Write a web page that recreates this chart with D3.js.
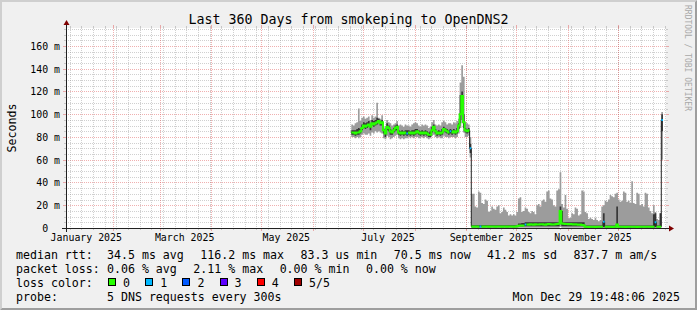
<!DOCTYPE html>
<html>
<head>
<meta charset="utf-8">
<script src="https://cdn.jsdelivr.net/npm/d3@7/dist/d3.min.js"></script>
<style>
  html, body { margin: 0; padding: 0; background: #f0f0f0; }
  svg { display: block; font-family: "DejaVu Sans Mono", monospace; }
</style>
</head>
<body>
<svg id="chart" width="697" height="310"></svg>
<script>
// ---- data (one value per day, ms) ----
const firstDay = "2025-06-24";
const endTime = new Date("2025-12-29T19:48:06Z");

const median = [
  84,84,83,84,84,85,88,90,89,90, 91,89,92,91,92,93,94,92,93,86,
  83,89,88,85,84,86,88,89,84,83, 84,83,84,83,84,83,84,83,84,85,
  84,83,84,83,84,83,82,82,86,89, 85,83,84,83,84,87,86,85,84,85,
  84,85,84,85,90,100,116,93,86,85, 86,70,
  1.3,1.2,1.3,1.4,1.2,1.3,1.3,1.2,1.4,1.3, 1.2,1.3,1.4,1.3,1.2,1.3,1.3,1.4,1.2,1.3,
  1.3,1.2,1.4,1.3,1.3,1.2,1.4,1.5,2.0,2.1, 2.0,2.2,3.0,3.1,2.9,3.2,3.0,2.8,3.3,3.1,
  3.0,3.4,3.2,3.0,2.9,3.3,3.5,3.2,3.0,3.1, 3.4,3.6,3.8,15,4.0,3.8,3.6,3.5,3.4,3.6,
  3.2,3.0,3.3,3.1,2.8,3.0,2.7,2.5,1.1,1.0, 0.9,1.0,1.1,1.0,0.9,1.0,1.1,1.0,1.2,5.5,
  1.2,1.0,1.1,1.0,0.9,1.0,1.1,3.0,1.2,1.0, 1.1,1.0,0.9,1.0,1.1,1.0,1.2,1.1,1.0,0.9,
  1.0,1.1,1.0,1.2,1.1,1.0,1.1,1.0,1.1,1.0, 5.0,1.2,1.1,1.2,95
];
const pingMin = [
  80,80,79,80,79,80,82,83,82,82, 83,81,84,83,85,84,85,84,83,79,
  78,81,80,78,79,80,81,82,79,78, 79,78,79,79,80,79,80,79,80,80,
  79,79,80,79,80,79,78,79,81,82, 80,79,80,79,79,81,80,80,79,80,
  80,80,79,80,83,88,95,84,80,80, 81,62,
  0.3,0.3,0.3,0.3,0.3,0.3,0.3,0.3,0.3,0.3, 0.3,0.3,0.3,0.3,0.3,0.3,0.3,0.3,0.3,0.3,
  0.3,0.3,0.3,0.3,0.3,0.3,0.3,0.3,0.3,0.3, 0.3,0.3,0.3,0.3,0.3,0.3,0.3,0.3,0.3,0.3,
  0.3,0.3,0.3,0.3,0.3,0.3,0.3,0.3,0.3,0.3, 0.3,0.3,0.3,1.0,0.3,0.3,0.3,0.3,0.3,0.3,
  0.3,0.3,0.3,0.3,0.3,0.3,0.3,0.3,0.3,0.3, 0.3,0.3,0.3,0.3,0.3,0.3,0.3,0.3,0.3,0.3,
  0.3,0.3,0.3,0.3,0.3,0.3,0.3,0.3,0.3,0.3, 0.3,0.3,0.3,0.3,0.3,0.3,0.3,0.3,0.3,0.3,
  0.3,0.3,0.3,0.3,0.3,0.3,0.3,0.3,0.3,0.3, 0.3,0.3,0.3,0.3,60
];
const pingMax = [
  91,90,92,93,105,94,97,98,96,97, 98,95,99,97,98,110,97,96,99,89,
  88,95,93,92,90,91,92,94,90,91, 90,89,91,90,90,89,91,92,93,92,
  90,89,91,90,91,90,88,89,93,95, 91,90,91,90,93,94,93,91,92,92,
  91,93,92,94,96,128,143,133,93,92, 91,80,
  30,30,19,18,32,31,22,21,25,24, 14,15,19,17,16,19,20,13,14,18,
  16,14,11,12,11,12,11,14,26,27, 14,15,18,17,14,13,15,14,12,20,
  21,19,24,25,23,32,33,26,25,20, 19,33,34,49,21,18,29,17,8.5,9,
  13,12,18,17,11,12,33,32,14,13, 8,9,8,7,9,7,6,7,19,20,
  24,23,25,29,28,27,30,31,25,23, 24,32,31,23,24,22,41,22,21,31,
  30,20,21,19,31,30,18,15,13,20, 14,8,7,13,102
];
// 2nd and 4th of the five sorted pings (dark inner smoke)
const pingLow = [
  82,82,81,82,82,83,86,88,87,88, 89,86,90,89,90,91,92,90,90,83,
  80,86,85,82,82,84,85,86,82,81, 82,81,82,81,82,81,82,81,82,83,
  82,81,82,81,82,81,80,80,84,86, 83,81,82,81,82,85,84,83,82,83,
  82,83,82,83,87,92,100,88,84,83, 84,66,
  0.7,0.7,0.7,0.7,0.7,0.7,0.7,0.7,0.7,0.7, 0.7,0.7,0.7,0.7,0.7,0.7,0.7,0.7,0.7,0.7,
  0.7,0.7,0.7,0.7,0.7,0.7,0.7,0.7,1.5,1.5, 1.5,1.5,1.5,1.5,1.5,1.5,1.5,1.5,1.5,1.5,
  1.5,1.5,1.5,1.5,1.5,1.5,1.5,1.5,1.5,1.5, 1.5,1.5,1.5,7,1.5,1.5,1.5,1.5,1.5,1.5,
  1.5,1.5,1.5,1.5,1.5,1.5,1.5,1.5,0.6,0.6, 0.6,0.6,0.6,0.6,0.6,0.6,0.6,0.6,0.6,0.6,
  0.6,0.6,0.6,0.6,0.6,0.6,0.6,1.0,0.6,0.6, 0.6,0.6,0.6,0.6,0.6,0.6,0.6,0.6,0.6,0.6,
  0.6,0.6,0.6,0.6,0.6,0.6,0.6,0.6,0.6,0.6, 0.6,0.6,0.6,0.6,85
];
const pingHigh = [
  86,86,86,87,88,87,91,93,92,93, 94,91,95,94,95,97,96,94,95,87,
  85,92,90,87,86,88,90,91,86,85, 86,85,86,86,86,85,86,86,87,87,
  86,85,86,85,86,85,84,85,89,91, 87,85,86,85,87,89,88,87,86,87,
  86,87,86,88,92,117,120,100,88,87, 88,74,
  2.5,2.5,2.5,2.5,2.5,2.5,2.5,2.5,2.5,2.5, 2.5,2.5,2.5,2.5,2.5,2.5,2.5,2.5,2.5,2.5,
  2.5,2.5,2.5,2.5,2.5,2.5,2.5,2.5,4,4, 4.5,4.5,5,5,5,5,5,5,5,5,
  5,5,5,5,5,5,5,5,5,5, 5,5,5,19,15,5,5,5,5,5,
  5,5,5,5,5,5,5,5,2.2,2.2, 2.2,2.2,2.2,2.2,2.2,2.2,2.2,2.2,2.2,13,
  2.2,2.2,2.2,2.2,2.2,2.2,2.2,19,2.2,2.2, 2.2,2.2,2.2,2.2,2.2,2.2,2.2,2.2,2.2,2.2,
  2.2,2.2,2.2,2.2,2.2,2.2,2.2,2.2,2.2,12, 13,2.2,2.2,13,100
];
// days where 1 of 5 requests was lost
const lossOneDays = ["2025-07-27", "2025-08-22", "2025-09-03", "2025-09-09",
                     "2025-10-06", "2025-11-22", "2025-12-23", "2025-12-27"];

const lossLabels = ["0", "1", "2", "3", "4", "5/5"];
const lossColors = ["#26ff00", "#00b8ff", "#0059ff", "#5e00ff", "#ff0000", "#a00000"];
const rttStats = ["34.5 ms avg", "116.2 ms max", "83.3 us min", "70.5 ms now", "41.2 ms sd", "837.7 m am/s"];
const lossStats = ["0.06 % avg", "2.11 % max", "0.00 % min", "0.00 % now"];
const yTicks = [0, 20, 40, 60, 80, 100, 120, 140, 160];

// ---- setup ----
const W = 697, H = 310;
const pLeft = 66, pRight = 666, pTop = 28, pBottom = 228;
const svg = d3.select("#chart");

const startTime = d3.utcDay.offset(endTime, -360);
const x = d3.scaleUtc().domain([startTime, endTime]).range([pLeft, pRight]);
const y = d3.scaleLinear().domain([0, 175.8]).range([pBottom, pTop]);

const day0 = new Date(firstDay + "T00:00:00Z");
const fmtDay = d3.utcFormat("%Y-%m-%d");
const rows = median.map(function (v, i) {
  var t0 = d3.utcDay.offset(day0, i);
  return {
    t0: t0, t1: d3.utcDay.offset(day0, i + 1),
    med: v, min: pingMin[i], max: pingMax[i], lo: pingLow[i], hi: pingHigh[i],
    loss: lossOneDays.indexOf(fmtDay(t0)) >= 0 ? 1 : 0
  };
});
// each day is a flat step
const steps = rows.flatMap(function (r) {
  return [Object.assign({t: r.t0}, r), Object.assign({t: r.t1}, r)];
});

// background + shade border
svg.append("rect").attr("width", W).attr("height", H).attr("fill", "#f0f0f0");
svg.append("path").attr("d", `M0,0H${W}L${W-2},2H2V${H-2}L0,${H}Z`).attr("fill", "#cfcfcf");
svg.append("path").attr("d", `M${W},0V${H}H0L2,${H-2}H${W-2}V2Z`).attr("fill", "#9e9e9e");
svg.append("rect").attr("x", pLeft).attr("y", pTop)
    .attr("width", pRight - pLeft).attr("height", pBottom - pTop).attr("fill", "#ffffff");

// ---- grid ----
const grid = svg.append("g").attr("shape-rendering", "crispEdges").attr("stroke-width", 1);
const gridCol = "rgba(143,143,143,0.42)", mgridCol = "rgba(222,80,80,0.45)";

d3.range(5, 176, 5).forEach(function (v) {
  var major = v % 20 === 0;
  var yy = Math.round(y(v)) + 0.5;
  var c = major ? mgridCol : gridCol, t = major ? 3 : 2;
  grid.append("line").attr("x1", pLeft).attr("x2", pRight).attr("y1", yy).attr("y2", yy)
      .attr("stroke", c).attr("stroke-dasharray", "1,1");
  grid.append("line").attr("x1", pLeft - t).attr("x2", pLeft).attr("y1", yy).attr("y2", yy).attr("stroke", c);
  grid.append("line").attr("x1", pRight).attr("x2", pRight + t).attr("y1", yy).attr("y2", yy).attr("stroke", c);
});

function vline(t, c, len) {
  var xx = Math.round(x(t)) + 0.5;
  grid.append("line").attr("x1", xx).attr("x2", xx).attr("y1", pTop).attr("y2", pBottom)
      .attr("stroke", c).attr("stroke-dasharray", "1,1");
  grid.append("line").attr("x1", xx).attr("x2", xx).attr("y1", pTop - len).attr("y2", pTop).attr("stroke", c);
  grid.append("line").attr("x1", xx).attr("x2", xx).attr("y1", pBottom).attr("y2", pBottom + len).attr("stroke", c);
}
d3.utcMonday.range(startTime, endTime).forEach(function (t) { vline(t, gridCol, 2); });
d3.utcMonth.range(startTime, endTime).forEach(function (t) { vline(t, mgridCol, 3); });

// ---- smoke ----
function smoke(lo, hi) {
  return d3.area().x(d => x(d.t)).y0(d => y(d[lo])).y1(d => y(d[hi]));
}
svg.append("path").datum(steps).attr("d", smoke("min", "max")).attr("fill", "#9c9c9c");
svg.append("path").datum(steps).attr("d", smoke("lo", "hi")).attr("fill", "#363636");

// ---- median ----
svg.append("path").datum(steps)
    .attr("d", d3.line().x(d => x(d.t)).y(d => y(d.med)))
    .attr("fill", "none").attr("stroke", "#202020").attr("stroke-width", 1);
lossColors.forEach(function (c, k) {
  var ln = d3.line().defined(d => d.loss === k).x(d => x(d.t)).y(d => y(d.med));
  svg.append("path").datum(steps).attr("d", ln)
      .attr("fill", "none").attr("stroke", c).attr("stroke-width", 2);
});

// ---- axes ----
const axisCol = "#202020", arrowCol = "#7f0000";
svg.append("line").attr("x1", pLeft - 4).attr("x2", pRight + 4)
    .attr("y1", pBottom + 0.5).attr("y2", pBottom + 0.5).attr("stroke", axisCol)
    .attr("shape-rendering", "crispEdges");
svg.append("line").attr("x1", pLeft + 0.5).attr("x2", pLeft + 0.5)
    .attr("y1", pBottom + 4).attr("y2", pTop - 4).attr("stroke", axisCol)
    .attr("shape-rendering", "crispEdges");
svg.append("path").attr("d", `M${pRight+3},${pBottom-2.5}L${pRight+8},${pBottom+0.5}L${pRight+3},${pBottom+3.5}Z`)
    .attr("fill", arrowCol);
svg.append("path").attr("d", `M${pLeft-2.5},${pTop-3}L${pLeft+0.5},${pTop-8}L${pLeft+3.5},${pTop-3}Z`)
    .attr("fill", arrowCol);

// y labels
svg.append("g").selectAll("text").data(yTicks).enter().append("text")
    .attr("x", pLeft - 6).attr("y", d => Math.round(y(d)) + 4)
    .attr("text-anchor", "end").attr("font-size", "9.9px")
    .text(d => d === 0 ? "0\u00a0\u00a0" : d + " m");

// x labels: every second month, centred half a month in
const fmtMonth = d3.utcFormat("%B %Y");
svg.append("g").selectAll("text")
    .data(d3.utcMonth.every(2).range(d3.utcYear.floor(startTime), endTime))
    .enter().append("text")
    .attr("x", d => x(d3.utcDay.offset(d, 15)))
    .attr("y", 241).attr("text-anchor", "middle").attr("font-size", "9.9px")
    .text(d => fmtMonth(d));

// ---- titles ----
svg.append("text").attr("x", W / 2).attr("y", 24).attr("text-anchor", "middle")
    .attr("font-size", "13.3px").text("Last 360 Days from smokeping to OpenDNS2");
svg.append("text").attr("transform", `translate(15.5,${(pTop + pBottom) / 2}) rotate(-90)`)
    .attr("text-anchor", "middle").attr("font-size", "11.6px").text("Seconds");
svg.append("text").attr("transform", "translate(685,5) rotate(90)")
    .attr("font-size", "8px").attr("fill", "#a8a8a8").text("RRDTOOL / TOBI OETIKER");

// ---- legend ----
const lg = svg.append("g").attr("font-size", "11.6px");
const col1 = 16, col2 = 107, gap = 16.5;
function legendRow(label, items, yy) {
  lg.append("text").attr("x", col1).attr("y", yy).text(label);
  var xx = col2;
  items.forEach(function (s) {
    var t = lg.append("text").attr("x", xx).attr("y", yy).text(s);
    xx += t.node().getComputedTextLength() + gap;
  });
}
legendRow("median rtt:", rttStats, 259);
legendRow("packet loss:", lossStats, 273);
lg.append("text").attr("x", col1).attr("y", 287).text("loss color:");
lossLabels.forEach(function (s, k) {
  var bx = 108 + k * 37.2;
  lg.append("rect").attr("x", bx + 0.5).attr("y", 278.5).attr("width", 7).attr("height", 7)
      .attr("fill", lossColors[k]).attr("stroke", "#000").attr("shape-rendering", "crispEdges");
  lg.append("text").attr("x", bx + 15).attr("y", 287).text(s);
});
legendRow("probe:", ["5 DNS requests every 300s"], 301);
lg.append("text").attr("x", 680).attr("y", 301).attr("text-anchor", "end")
    .text("Mon Dec 29 19:48:06 2025");
</script>
</body>
</html>
